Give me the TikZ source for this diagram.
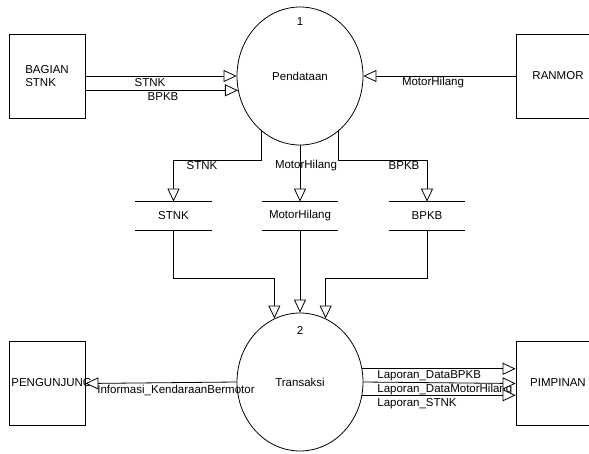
\documentclass[tikz,border=0pt]{standalone}
\usepackage{fontspec}
\setmainfont{Liberation Sans}
\usetikzlibrary{shapes.geometric,arrows.meta,calc}
\begin{document}
\begin{tikzpicture}[x=1pt,y=-1pt, line width=0.8pt,
  every node/.style={font=\fontsize{11.5}{13}\selectfont, inner sep=0pt},
  ent/.style={draw, rectangle, minimum width=76pt, minimum height=84pt},
  proc/.style={draw, ellipse, minimum width=126pt, minimum height=138pt},
  store/.style={rectangle, minimum width=76pt, minimum height=28pt},
  flow/.style={-{Triangle[fill=white,length=13pt,width=12pt]}}]
\useasboundingbox (0,0) rectangle (589,453);
% text labels first (lines are drawn over them)
\node (l1) at (150,83) {STNK};
\node (l2) at (163,97) {BPKB};
\node (l3) at (433,83) {MotorHilang};
\node (l4) at (202,166) {STNK};
\node (l5) at (306,166) {MotorHilang};
\node (l6) at (404,166) {BPKB};
\node[anchor=west] (l7) at (97,390) {Informasi\_KendaraanBermotor};
\node[anchor=west] (l8) at (377,376) {Laporan\_DataBPKB};
\node[anchor=west] (l9) at (377,390) {Laporan\_DataMotorHilang};
\node[anchor=west] (l10) at (377,404) {Laporan\_STNK};
\node[anchor=west] (pgt) at (11,383) {PENGUNJUNG};
% entities
\node[ent, align=left] (bs) at (47,76) {BAGIAN\\STNK};
\node[ent] (rm) at (554,76) {};
\node (rmt) at (558,76) {RANMOR};
\node[ent] (pg) at (47,383.5) {};
\node[ent] (pm) at (554,383.5) {};
\node (pmt) at (558,383) {PIMPINAN};
% processes
\node[proc] (p1) at (300,76) {Pendataan};
\node (n1) at (300,22) {1};
\node[proc] (p2) at (300,382) {Transaksi};
\node (n2) at (300,330) {2};
% data stores
\node[store] (s1) at (173.5,216) {STNK};
\node[store] (s2) at (300,216) {MotorHilang};
\node[store] (s3) at (427,216) {BPKB};
\foreach \s in {s1,s2,s3}
  \draw (\s.north west) -- (\s.north east) (\s.south west) -- (\s.south east);
% bend levels
\coordinate (j1) at (0,160);
\coordinate (j2) at (0,278);
% flows
\draw[flow] (bs.east) -- (p1.west);
\draw[flow] (bs.east |- p1.193) -- (p1.193);
\draw[flow] (rm.west) -- (p1.east);
\draw[flow] (p1.235) |- (s1.north |- j1) -- (s1.north);
\draw[flow] (p1.south) -- (s2.north);
\draw[flow] (p1.305) |- (s3.north |- j1) -- (s3.north);
\draw[flow] (s1.south) |- (p2.112 |- j2) -- (p2.112);
\draw[flow] (s2.south) -- (p2.north);
\draw[flow] (s3.south) |- (p2.68 |- j2) -- (p2.68);
\draw[flow] (p2.west) -- (pg.east);
\draw[flow] (p2.12) -- (pm.west |- p2.12);
\draw[flow] (p2.east) -- (pm.west);
\draw[flow] (p2.-12) -- (pm.west |- p2.-12);
\end{tikzpicture}
\end{document}
